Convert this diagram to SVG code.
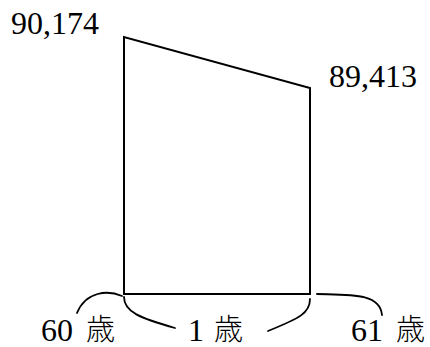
<svg xmlns="http://www.w3.org/2000/svg" width="430" height="347" viewBox="0 0 430 347">
<style>
.ln{fill:none;stroke:#000;stroke-width:2}
.br{fill:none;stroke:#000;stroke-width:1.8;stroke-linecap:round}
.t{font-family:"Liberation Serif","Noto Sans CJK JP",serif;font-size:32px;fill:#000}
.k{font-family:"Noto Sans CJK JP",sans-serif;font-size:29px;font-weight:300;fill:#000}
</style>
<rect width="430" height="347" fill="#fff"/>
<g id="shape">
<path class="ln" d="M124,294 L124,37 L310,88 L310,294 Z"/>
</g>
<g id="connectors">
<path class="br" d="M122,296 C108,290 86,291 77,313"/>
<path class="br" d="M124,297 C124,312 140,318 175,328"/>
<path class="br" d="M310,299 C310,313 300,318 268,331"/>
<path class="br" d="M317,294 C350,295 380,293 382,315"/>
</g>
<g id="label-top-left"><text class="t" x="11" y="34">90,174</text></g>
<g id="label-top-right"><text class="t" x="329" y="87">89,413</text></g>
<g id="label-60"><text class="t" x="41" y="341">60</text><text class="k" x="86" y="340">歳</text></g>
<g id="label-1"><text class="t" x="188" y="341">1</text><text class="k" x="214" y="340">歳</text></g>
<g id="label-61"><text class="t" x="351" y="341">61</text><text class="k" x="396" y="340">歳</text></g>
</svg>
